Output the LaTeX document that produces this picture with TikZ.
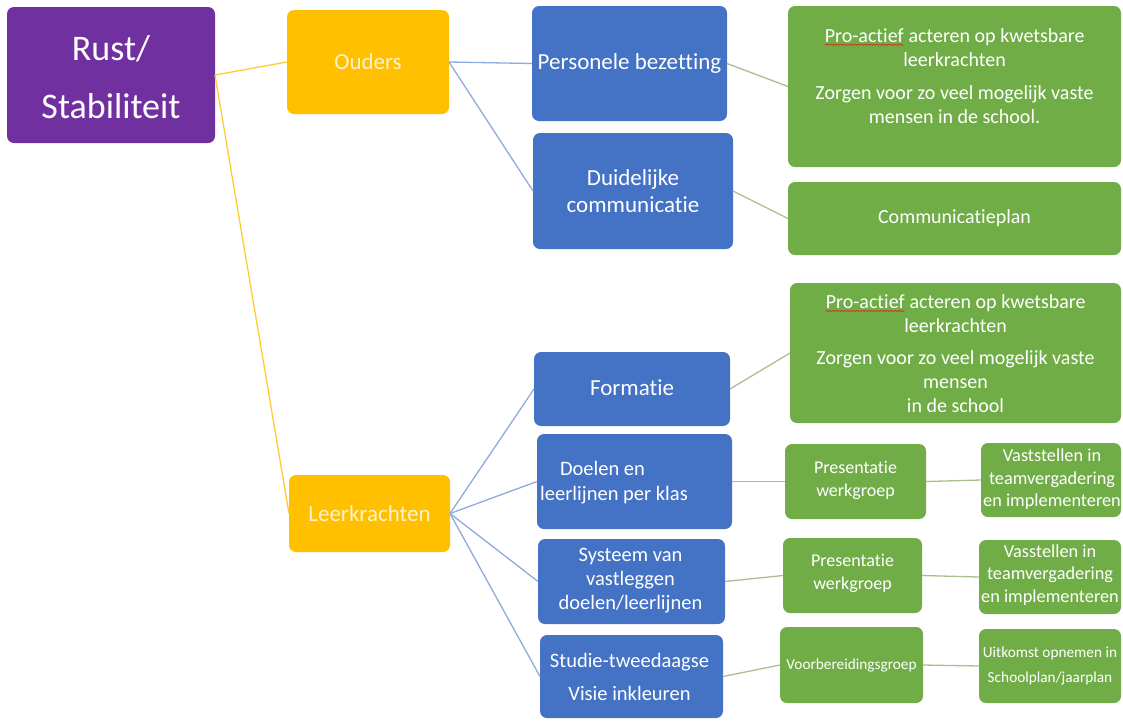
\documentclass[tikz,border=0pt]{standalone}
\usepackage{fontspec}
\setmainfont{Carlito}[RawFeature={-liga;-calt;-clig}]
\usetikzlibrary{decorations.pathmorphing}
\definecolor{purp}{HTML}{7030A0}
\definecolor{orng}{HTML}{FFC000}
\definecolor{blu}{HTML}{4472C4}
\definecolor{grn}{HTML}{70AD47}
\definecolor{lineO}{HTML}{FFCC33}
\definecolor{lineB}{HTML}{8FAADC}
\definecolor{lineG}{HTML}{A9C08E}
\definecolor{otext}{HTML}{FFF2CC}
\definecolor{squigred}{HTML}{D83020}
\newcommand{\squig}[1]{\tikz[baseline=(sq.base)]{\node[inner sep=0pt,outer sep=0pt,text=white] (sq) {#1};
  \draw[squigred, line width=0.7pt, decorate, decoration={snake, amplitude=0.7pt, segment length=3pt}] ([yshift=-2.6pt]sq.base west) -- ([yshift=-2.6pt]sq.base east);}}
\tikzset{
  boxbase/.style={rectangle, rounded corners=7pt, inner sep=0pt, outer sep=0pt, draw=none},
  pbox/.style={boxbase, fill=purp},
  obox/.style={boxbase, fill=orng},
  bbox/.style={boxbase, fill=blu},
  gbox/.style={boxbase, fill=grn},
  txt/.style={inner sep=0pt, outer sep=0pt, align=center, text=white},
  otxt/.style={txt, text=otext},
  conO/.style={draw=lineO, line width=1.3pt},
  conB/.style={draw=lineB, line width=1.3pt},
  conG/.style={draw=lineG, line width=1.3pt},
}
\begin{document}
\begin{tikzpicture}[x=1pt, y=-1pt]
\useasboundingbox (0,0) rectangle (1123,720);
% boxes
\node[pbox, minimum width=208pt, minimum height=136pt] (rust) at (111,75) {};
\node[obox, minimum width=162pt, minimum height=104pt] (ouders) at (368,62) {};
\node[obox, minimum width=161pt, minimum height=77pt] (leerk) at (369.5,513.5) {};
\node[bbox, minimum width=195pt, minimum height=115pt] (pers) at (629.5,63.5) {};
\node[bbox, minimum width=200pt, minimum height=116pt] (duid) at (633,191) {};
\node[gbox, minimum width=333pt, minimum height=161pt] (g1) at (954.5,86.5) {};
\node[gbox, minimum width=333pt, minimum height=73pt] (comm) at (954.5,218.5) {};
\node[bbox, minimum width=196pt, minimum height=74pt] (form) at (632,389) {};
\node[gbox, minimum width=331pt, minimum height=140pt] (g3) at (955.5,353) {};
\node[bbox, minimum width=195pt, minimum height=95pt] (doel) at (634.5,481.5) {};
\node[gbox, minimum width=141pt, minimum height=75pt] (p1) at (855.5,481.5) {};
\node[gbox, minimum width=140pt, minimum height=74pt] (v1) at (1051,480) {};
\node[bbox, minimum width=187pt, minimum height=85pt] (sys) at (631.5,581.5) {};
\node[gbox, minimum width=139pt, minimum height=75pt] (p2) at (852.5,575.5) {};
\node[gbox, minimum width=142pt, minimum height=74pt] (v2) at (1050,577) {};
\node[bbox, minimum width=183pt, minimum height=83pt] (stud) at (631.5,676.5) {};
\node[gbox, minimum width=143pt, minimum height=76pt] (voor) at (851.5,665) {};
\node[gbox, minimum width=142pt, minimum height=74pt] (uit) at (1050,666) {};
% connectors
\draw[conO] (rust.east) -- (ouders.west);
\draw[conO] (rust.east) -- (leerk.west);
\draw[conB] (ouders.east) -- (pers.west);
\draw[conB] (ouders.east) -- (duid.west);
\draw[conG] (pers.east) -- (g1.west);
\draw[conG] (duid.east) -- (comm.west);
\draw[conB] (leerk.east) -- (form.west);
\draw[conB] (leerk.east) -- (doel.west);
\draw[conB] (leerk.east) -- (sys.west);
\draw[conB] (leerk.east) -- (stud.west);
\draw[conG] (form.east) -- (g3.west);
\draw[conG] (doel.east) -- (p1.west);
\draw[conG] (sys.east) -- (p2.west);
\draw[conG] (stud.east) -- (voor.west);
\draw[conG] (p1.east) -- (v1.west);
\draw[conG] (p2.east) -- (v2.west);
\draw[conG] (voor.east) -- (uit.west);
% texts
\node[txt, font=\fontsize{36}{58}\selectfont] (rustT) at (111,77) {Rust/\\Stabiliteit};
\node[otxt, font=\fontsize{23}{28}\selectfont] (oudersT) at (368,62) {Ouders};
\node[otxt, font=\fontsize{23}{28}\selectfont] (leerkT) at (369.5,513.5) {Leerkrachten};
\node[txt, font=\fontsize{23}{28}\selectfont] (persT) at (629.5,63) {Personele bezetting};
\node[txt, font=\fontsize{23}{27}\selectfont] (duidT) at (633,191) {Duidelijke\\communicatie};
\node[txt, font=\fontsize{20}{24.5}\selectfont] (g1T) at (954.5,76) {\squig{Pro-actief} acteren op kwetsbare\\leerkrachten\\[8pt]Zorgen voor zo veel mogelijk vaste\\mensen in de school.};
\node[txt, font=\fontsize{20}{24}\selectfont] (commT) at (954.5,218) {Communicatieplan};
\node[txt, font=\fontsize{23}{28}\selectfont] (formT) at (632,388) {Formatie};
\node[txt, font=\fontsize{20}{24}\selectfont] (g3T) at (955.5,353.5) {\squig{Pro-actief} acteren op kwetsbare\\leerkrachten\\[8pt]Zorgen voor zo veel mogelijk vaste\\mensen\\in de school};
\node[txt, font=\fontsize{20.5}{25}\selectfont] (doelT) at (614,482.5) {Doelen en\rule{23pt}{0pt}\\leerlijnen per klas};
\node[txt, font=\fontsize{18}{23}\selectfont] (p1T) at (855.5,480.5) {Presentatie\\werkgroep};
\node[txt, font=\fontsize{18.3}{22.5}\selectfont] (v1T) at (1052,479.5) {Vaststellen in\\teamvergadering\\en implementeren};
\node[txt, font=\fontsize{20.5}{24}\selectfont] (sysT) at (630.5,581) {Systeem van\\vastleggen\\doelen/leerlijnen};
\node[txt, font=\fontsize{18}{23}\selectfont] (p2T) at (852.5,573.5) {Presentatie\\werkgroep};
\node[txt, font=\fontsize{18.3}{22.5}\selectfont] (v2T) at (1050,575) {Vasstellen in\\teamvergadering\\en implementeren};
\node[txt, font=\fontsize{20.5}{33}\selectfont] (studT) at (629.5,676.5) {Studie-tweedaagse\\Visie inkleuren};
\node[txt, font=\fontsize{15.3}{19}\selectfont] (voorT) at (851.5,665) {Voorbereidingsgroep};
\node[txt, font=\fontsize{15.3}{25}\selectfont] (uitT) at (1050,665.5) {Uitkomst opnemen in\\Schoolplan/jaarplan};
\end{tikzpicture}
\end{document}
